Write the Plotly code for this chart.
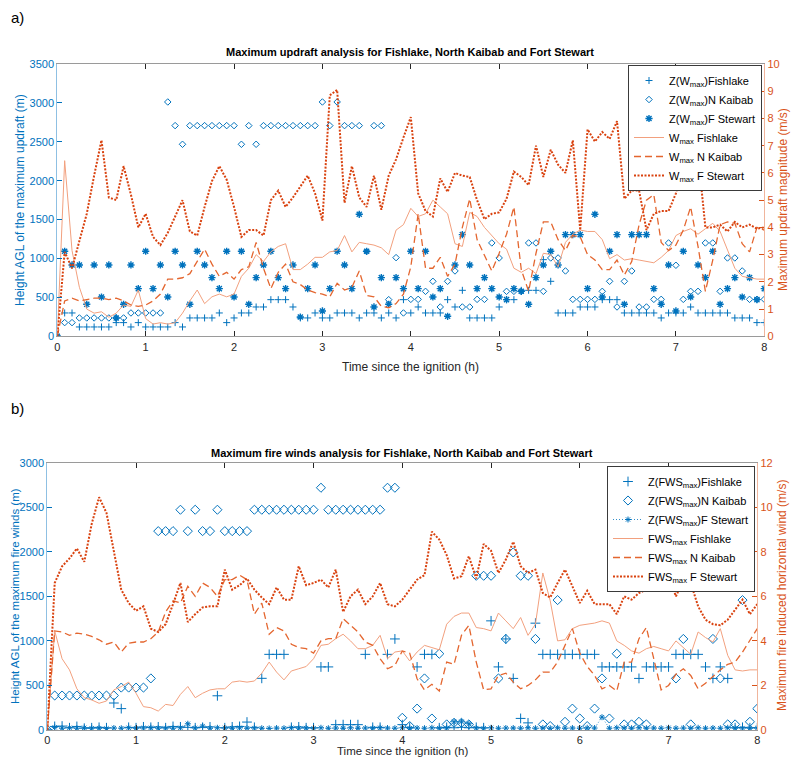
import plotly.graph_objects as go

# ---------------- data (5-min samples, 0..8 h) ----------------
time_h = [i / 12 for i in range(97)]

# (a) updraft analysis: heights (m)
z_w_fishlake = [
    0, 300, 300, 120, 120, 120, 120, 120, 176, 176, 120, 176,
    120, 120, 120, 120, 176, 120, 236, 236, 236, 236, 300, 176,
    236, 300, 300, 377, 377, 471, 471, 471, 377, 236, 236, 300,
    236, 236, 300, 300, 300, 236, 300, 300, 236, 300, 236, 471,
    300, 377, 300, 300, 300, 471, 377, 591, 236, 236, 236, 236,
    377, 471, 471, 591, 591, 591, 985, 707, 300, 300, 300, 377,
    377, 377, 471, 471, 471, 300, 300, 300, 300, 300, 236, 300,
    300, 300, 377, 300, 300, 300, 300, 300, 236, 236, 236, 176,
    176]
z_w_nkaibab = [
    0, 176, 176, 236, 236, 236, 236, 236, 236, 236, 300, 300,
    300, 300, 300, 3012, 2708, 2468, 2708, 2708, 2708, 2708, 2708, 2708,
    2708, 2468, 2708, 2468, 2708, 2708, 2708, 2708, 2708, 2708, 2708, 2708,
    3012, 2708, 3012, 2708, 2708, 2708, 1090, 2708, 2708, 471, 1011, 300,
    475, 475, 578, 707, 377, 707, 840, 377, 377, 475, 475, 1200,
    1007, 578, 578, 578, 1200, 1200, 578, 1007, 1007, 840, 475, 475,
    475, 475, 578, 707, 377, 707, 840, 377, 377, 475, 475, 1200,
    913, 475, 578, 578, 1200, 1200, 578, 1007, 1007, 840, 475, 475,
    475]
z_w_fstewart = [
    0, 1093, 917, 917, 411, 917, 505, 917, 236, 411, 917, 613,
    1093, 613, 917, 505, 1093, 917, 411, 1093, 917, 754, 613, 1093,
    505, 1093, 411, 754, 917, 1093, 754, 613, 917, 248, 613, 917,
    326, 613, 1093, 917, 613, 1568, 1093, 377, 754, 411, 754, 613,
    1093, 613, 1093, 505, 613, 257, 917, 1307, 917, 613, 754, 613,
    505, 471, 613, 578, 411, 754, 917, 1093, 917, 1307, 1307, 1307,
    613, 1568, 505, 1093, 1307, 411, 1307, 1307, 1307, 613, 411, 917,
    326, 1093, 505, 917, 754, 1093, 411, 613, 754, 505, 754, 471,
    613]
# (a) updraft magnitudes (m/s)
w_fishlake = [
    0, 6.45, 3.15, 1.8, 1.0, 0.85, 0.9, 0.7, 0.85, 1.15, 1.1, 1.7,
    0.65, 0.45, 0.5, 0.45, 0.5, 0.85, 1.3, 1.7, 1.2, 1.45, 1.55, 1.45,
    1.55, 2.2, 2.5, 3.0, 2.75, 3.1, 3.3, 3.4, 2.45, 2.45, 2.65, 2.9,
    2.9, 3.1, 3.15, 3.7, 3.1, 3.45, 3.4, 3.35, 3.25, 3.0, 3.9, 4.1,
    4.7, 4.4, 4.5, 5.0, 4.75, 4.5, 3.4, 3.3, 4.55, 4.4, 4.0, 3.7,
    3.4, 3.2, 2.5, 2.35, 2.5, 2.3, 3.05, 3.0, 2.55, 3.45, 3.75, 3.9,
    3.85, 3.85, 3.55, 2.85, 3.0, 2.8, 2.85, 2.8, 2.75, 2.7, 2.9, 3.15,
    3.7, 3.85, 3.95, 3.75, 3.95, 4.15, 3.85, 3.2, 2.5, 2.2, 2.15, 2.1,
    2.1]
w_nkaibab = [
    0, 1.3, 1.4, 1.3, 1.35, 1.4, 1.4, 1.35, 1.4, 1.3, 1.15, 1.1,
    1.15, 1.3, 1.55, 2.1, 2.1, 2.15, 2.3, 2.75, 3.2, 2.65, 2.2, 2.35,
    2.1, 2.45, 2.55, 3.45, 2.5, 1.75, 2.35, 2.65, 2.0, 1.9, 1.7, 1.6,
    1.55, 1.45, 1.95, 1.7, 1.8, 2.4, 1.5, 1.45, 1.1, 1.05, 1.2, 1.55,
    2.55, 4.5, 2.5, 2.5, 2.9, 2.2, 2.65, 4.0, 5.05, 3.55, 2.95, 2.4,
    3.05, 3.75, 4.75, 2.45, 1.65, 3.05, 4.2, 4.2, 3.55, 3.15, 3.7, 3.65,
    3.0, 2.8, 2.45, 2.45, 2.8, 2.25, 2.75, 4.1, 5.0, 5.2, 3.45, 3.15,
    3.35, 3.9, 4.75, 3.3, 1.65, 2.8, 4.1, 4.2, 4.15, 3.4, 3.1, 4.0,
    3.9]
w_fstewart = [
    0, 3.1, 2.5, 3.5, 4.5, 5.9, 7.2, 5.1, 5.0, 6.25, 5.2, 4.0,
    4.5, 3.65, 3.35, 3.8, 4.4, 5.0, 3.85, 3.7, 4.75, 5.7, 6.25, 5.75,
    4.75, 3.65, 3.9, 3.9, 3.7, 5.0, 5.35, 4.75, 5.1, 5.5, 5.9, 5.25,
    4.25, 8.85, 9.05, 4.9, 6.25, 5.1, 4.75, 5.9, 4.65, 5.9, 6.5, 7.3,
    8.05, 5.25, 4.6, 4.4, 5.8, 5.3, 6.0, 5.9, 5.85, 5.0, 4.3, 4.5,
    4.55, 5.05, 6.05, 5.85, 5.55, 7.0, 5.85, 6.85, 6.3, 6.0, 7.2, 3.9,
    7.6, 7.15, 7.5, 7.25, 7.9, 5.05, 5.35, 5.35, 3.9, 4.5, 4.6, 4.6,
    5.25, 6.4, 5.9, 6.7, 4.0, 4.0, 4.1, 3.85, 4.2, 4.0, 4.1, 3.95,
    4.0]

# (b) fire winds analysis: heights (m)
z_fws_fishlake = [
    0, 40, 44, 25, 40, 20, 25, 30, 25, 303, 240, 30,
    25, 35, 30, 35, 25, 40, 35, 30, 25, 30, 35, 384,
    25, 35, 40, 89, 30, 580, 849, 849, 849, 30, 35, 25,
    25, 708, 708, 60, 60, 60, 60, 849, 30, 30, 849, 1022,
    60, 30, 708, 849, 849, 25, 30, 25, 30, 25, 30, 25,
    1225, 708, 1022, 579, 130, 80, 1199, 849, 849, 849, 849, 849,
    849, 849, 849, 708, 708, 708, 708, 708, 579, 708, 708, 708,
    708, 849, 849, 849, 849, 708, 579, 708, 579, 25, 30, 25,
    25]
z_fws_nkaibab = [
    0, 387, 387, 387, 387, 387, 387, 387, 387, 387, 476, 476,
    476, 476, 579, 2232, 2232, 2232, 2472, 2232, 2472, 2232, 2232, 2472,
    2232, 2232, 2232, 2232, 2472, 2472, 2472, 2472, 2472, 2472, 2472, 2472,
    2472, 2719, 2472, 2472, 2472, 2472, 2472, 2472, 2472, 2472, 2719, 2719,
    137, 44, 240, 579, 129, 856, 63, 81, 81, 63, 1731, 1731,
    1731, 579, 1022, 1993, 1731, 1731, 1022, 63, 44, 1458, 92, 240,
    129, 44, 240, 579, 129, 856, 63, 63, 92, 63, 1731, 1731,
    1731, 579, 1022, 63, 1731, 1731, 1022, 579, 63, 63, 1458, 92,
    240]
z_fws_fstewart = [
    0, 30, 20, 25, 20, 25, 20, 20, 18, 22, 20, 25,
    20, 22, 25, 20, 22, 20, 25, 70, 22, 44, 20, 25,
    22, 20, 25, 20, 22, 20, 18, 22, 20, 25, 20, 22,
    20, 25, 20, 22, 20, 25, 20, 22, 20, 25, 22, 20,
    25, 20, 22, 20, 25, 20, 22, 92, 92, 70, 22, 20,
    25, 20, 22, 22, 20, 25, 20, 22, 20, 25, 20, 22,
    20, 25, 22, 144, 20, 25, 22, 20, 25, 20, 22, 20,
    25, 20, 22, 20, 25, 20, 22, 20, 25, 20, 22, 20,
    22]
# (b) fire wind magnitudes (m/s)
fws_fishlake = [
    0, 4.45, 3.2, 2.7, 1.85, 1.45, 1.35, 1.2, 1.3, 1.8, 1.95, 2.15,
    1.65, 1.05, 1.0, 0.85, 1.15, 1.1, 1.6, 1.95, 1.45, 1.65, 1.8, 1.85,
    1.85, 2.15, 2.2, 2.15, 2.2, 2.55, 3.05, 2.6, 2.25, 2.65, 2.75, 2.85,
    3.2, 3.8, 3.85, 4.1, 4.3, 4.0, 3.65, 3.65, 3.8, 4.25, 3.2, 3.5,
    3.55, 3.1, 3.5, 3.8, 3.7, 3.6, 4.75, 5.1, 5.25, 5.25, 4.6, 4.55,
    4.45, 5.25, 4.9, 4.55, 5.05, 4.25, 4.75, 7.05, 5.8, 4.0, 4.05, 4.55,
    4.7, 4.75, 4.8, 4.9, 4.8, 4.0, 3.8, 3.55, 3.45, 3.65, 3.75, 3.65,
    3.55, 4.0, 3.7, 3.4, 4.4, 4.15, 3.95, 4.55, 3.35, 2.7, 2.65, 2.7,
    2.7]
fws_nkaibab = [
    0, 4.45, 4.4, 4.25, 4.35, 4.3, 4.2, 4.05, 3.85, 3.95, 3.5, 3.9,
    3.95, 3.95, 4.1, 4.4, 5.3, 5.8, 5.7, 6.45, 6.0, 6.6, 6.4, 6.0,
    6.75, 6.75, 6.95, 6.75, 5.2, 5.7, 4.3, 4.6, 4.45, 3.85, 3.7, 3.65,
    3.45, 4.0, 4.1, 4.1, 5.0, 4.7, 4.4, 3.95, 3.8, 3.2, 2.75, 2.9,
    3.55, 3.45, 2.3, 1.8, 2.05, 1.75, 3.05, 2.95, 4.25, 4.7, 3.05, 1.8,
    1.85, 2.45, 2.55, 2.15, 1.85, 2.0, 2.25, 2.6, 2.6, 3.05, 3.8, 4.55,
    3.45, 2.85, 2.45, 1.85, 2.0, 1.75, 3.05, 3.05, 4.1, 4.6, 3.2, 1.8,
    2.0, 2.5, 2.75, 2.45, 1.85, 2.1, 2.4, 2.7, 2.95, 3.05, 3.5, 4.0,
    4.55]
fws_fstewart = [
    0, 6.6, 7.35, 7.7, 8.15, 7.55, 9.25, 10.45, 9.75, 8.05, 6.3, 5.7,
    5.35, 5.55, 4.55, 4.4, 4.75, 5.65, 6.6, 4.85, 5.2, 5.5, 5.55, 5.55,
    7.2, 6.3, 6.5, 6.8, 6.3, 5.95, 5.65, 6.4, 5.85, 5.85, 7.35, 6.5,
    6.6, 6.75, 6.4, 7.2, 5.3, 6.0, 6.3, 5.65, 6.0, 6.6, 5.65, 5.55,
    5.85, 6.3, 6.75, 6.95, 8.9, 8.55, 7.85, 6.8, 6.9, 7.8, 6.8, 8.35,
    8.05, 7.05, 7.65, 8.45, 7.35, 7.05, 7.2, 6.15, 5.95, 6.6, 7.2, 6.45,
    5.7, 6.25, 5.65, 5.65, 5.65, 5.2, 6.0, 5.85, 6.15, 6.3, 6.6, 6.75,
    6.9, 6.0, 6.75, 6.6, 5.55, 4.95, 4.75, 4.7, 4.95, 5.4, 5.85, 5.2,
    5.65]

x_ticks = [0, 1, 2, 3, 4, 5, 6, 7, 8]

# ---------------- styling ----------------
BLUE = "#0072BD"
ORANGE = "#D95319"
SOLID = "#F2A07E"
DASHED = "#E4662F"
DOTTED = "#D9420F"
FONT = "Liberation Sans, Arial, sans-serif"

fig = go.Figure()

def markers(x, y, name, symbol, size, xa, ya, leg, mode="markers", line=None, lw=1):
    t = go.Scatter(x=x, y=y, name=name, mode=mode, xaxis=xa, yaxis=ya, legend=leg,
                   marker=dict(symbol=symbol, size=size, color=BLUE,
                               line=dict(color=BLUE, width=lw)))
    if line is not None:
        t.line = line
    return t

# ---- (a) ----
fig.add_trace(markers(time_h, z_w_fishlake, "Z(W<sub>max</sub>)Fishlake", "cross-thin-open", 5, "x", "y", "legend"))
fig.add_trace(markers(time_h, z_w_nkaibab, "Z(W<sub>max</sub>)N Kaibab", "diamond-open", 5, "x", "y", "legend"))
fig.add_trace(markers(time_h, z_w_fstewart, "Z(W<sub>max</sub>)F Stewart", "asterisk-open", 6, "x", "y", "legend", lw=1.4))
fig.add_trace(go.Scatter(x=time_h, y=w_fishlake, name="W<sub>max</sub> Fishlake", mode="lines",
                         line=dict(color=SOLID, width=1), xaxis="x", yaxis="y2", legend="legend"))
fig.add_trace(go.Scatter(x=time_h, y=w_nkaibab, name="W<sub>max</sub> N Kaibab", mode="lines",
                         line=dict(color=DASHED, width=1.3, dash="7px,4px"), xaxis="x", yaxis="y2", legend="legend"))
fig.add_trace(go.Scatter(x=time_h, y=w_fstewart, name="W<sub>max</sub> F Stewart", mode="lines",
                         line=dict(color=DOTTED, width=2, dash="2px,1.5px"), xaxis="x", yaxis="y2", legend="legend"))

# ---- (b) ----
fig.add_trace(markers(time_h, z_fws_fishlake, "Z(FWS<sub>max</sub>)Fishlake", "cross-thin-open", 7, "x2", "y3", "legend2"))
fig.add_trace(markers(time_h, z_fws_nkaibab, "Z(FWS<sub>max</sub>)N Kaibab", "diamond-open", 7, "x2", "y3", "legend2"))
fig.add_trace(markers(time_h, z_fws_fstewart, "Z(FWS<sub>max</sub>)F Stewart", "asterisk-open", 5, "x2", "y3", "legend2",
                      mode="lines+markers", line=dict(color=BLUE, width=0.8, dash="1px,2px")))
fig.add_trace(go.Scatter(x=time_h, y=fws_fishlake, name="FWS<sub>max</sub> Fishlake", mode="lines",
                         line=dict(color=SOLID, width=1), xaxis="x2", yaxis="y4", legend="legend2"))
fig.add_trace(go.Scatter(x=time_h, y=fws_nkaibab, name="FWS<sub>max</sub> N Kaibab", mode="lines",
                         line=dict(color=DASHED, width=1.3, dash="7px,4px"), xaxis="x2", yaxis="y4", legend="legend2"))
fig.add_trace(go.Scatter(x=time_h, y=fws_fstewart, name="FWS<sub>max</sub> F Stewart", mode="lines",
                         line=dict(color=DOTTED, width=2, dash="2px,1.5px"), xaxis="x2", yaxis="y4", legend="legend2"))

# page body has an 8px margin: the figure starts at (8, 8) of the window
OFF = 8
W, H = 784, 750
def px(xp):
    return (xp - OFF) / W
def py(yp):
    return 1 - (yp - OFF) / H

xcommon = dict(range=[0, 8], tickvals=x_ticks, ticks="inside", ticklen=5, tickcolor="#262626",
               showline=True, linecolor="#9a9a9a", linewidth=1, mirror="ticks", showgrid=False,
               zeroline=False, tickfont=dict(family=FONT, size=11, color="#262626"), automargin=False)
yleft = dict(ticks="inside", ticklen=5, tickcolor=BLUE, showline=True, linecolor="#8fc0e3",
             linewidth=1, showgrid=False, zeroline=False, automargin=False,
             tickfont=dict(family=FONT, size=11, color=BLUE))
yright = dict(ticks="inside", ticklen=5, tickcolor=ORANGE, showline=True, linecolor="#f0b59c",
              linewidth=1, showgrid=False, zeroline=False, automargin=False,
              tickfont=dict(family=FONT, size=11, color=ORANGE))

legcommon = dict(bgcolor="white", bordercolor="#3a3a3a", borderwidth=1,
                 font=dict(family=FONT, size=11, color="#000"), xanchor="right", yanchor="top",
                 tracegroupgap=0, itemwidth=30)

fig.update_layout(
    width=W, height=H, plot_bgcolor="white", paper_bgcolor="white",
    margin=dict(l=0, r=0, t=0, b=0),
    font=dict(family=FONT),
    xaxis=dict(domain=[px(57.3), px(764.3)], anchor="y", **xcommon),
    yaxis=dict(domain=[py(336.3), py(64)], anchor="x", range=[0, 3500], dtick=500, **yleft),
    yaxis2=dict(overlaying="y", anchor="x", side="right", range=[0, 10], dtick=1, **yright),
    xaxis2=dict(domain=[px(47.3), px(757.3)], anchor="y3", **xcommon),
    yaxis3=dict(domain=[py(730), py(462.7)], anchor="x2", range=[0, 3000], dtick=500, **yleft),
    yaxis4=dict(overlaying="y3", anchor="x2", side="right", range=[0, 12], dtick=2, **yright),
    legend=dict(x=px(762), y=py(65), **legcommon),
    legend2=dict(x=px(755), y=py(466), **legcommon),
    showlegend=True,
)

ann = []
def text(x, y, s, size=12, color="#262626", angle=0, bold=False, xanchor="center"):
    ann.append(dict(x=px(x), y=py(y), xref="paper", yref="paper", text=("<b>%s</b>" % s) if bold else s,
                    showarrow=False, textangle=angle, xanchor=xanchor, yanchor="middle",
                    font=dict(family=FONT, size=size, color=color)))

text(9, 18, "a)", size=15, color="#000", xanchor="left")
text(9, 408, "b)", size=15, color="#000", xanchor="left")
text(410, 52, "Maximum updraft analysis for Fishlake, North Kaibab and Fort Stewart", size=11, color="#000", bold=True)
text(402, 453, "Maximum fire winds analysis for Fishlake, North Kaibab and Fort Stewart", size=11, color="#000", bold=True)
text(410, 367, "Time since the ignition (h)", size=12)
text(402, 751, "Time since the ignition (h)", size=11.5)
text(20, 200, "Height AGL of the maximum updraft (m)", size=12, color=BLUE, angle=-90)
text(783, 200, "Maximum updraft magnitude (m/s)", size=12, color=ORANGE, angle=-90)
text(15, 596, "Height AGL of the maximum fire winds (m)", size=11.5, color=BLUE, angle=-90)
text(782, 596, "Maximum fire induced horizontal wind (m/s)", size=12, color=ORANGE, angle=-90)
fig.update_layout(annotations=ann)

fig.write_html("out.html")
